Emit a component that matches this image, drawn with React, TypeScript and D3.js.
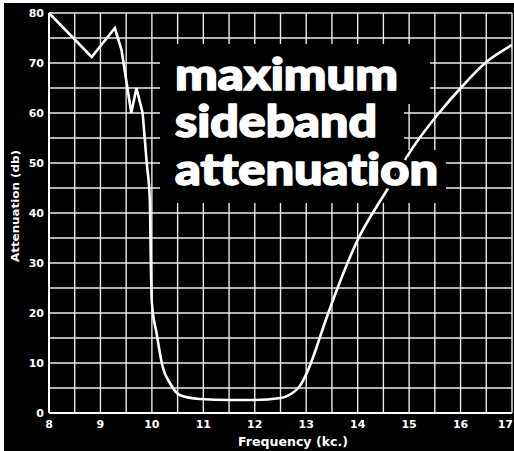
import React from "react";
import * as d3 from "d3";

const freqs = [8.0, 8.83, 9.28, 9.41, 9.6, 9.7, 9.82, 9.9, 9.96, 9.98, 10.0, 10.09, 10.21, 10.35, 10.54, 10.93, 11.5, 12.0, 12.5, 12.86, 13.02, 13.19, 13.31, 13.5, 14.0, 14.57, 15.1, 15.58, 16.02, 16.5, 17.0];
const attenuation = [80, 71.2, 77, 72.6, 60, 65, 60, 50, 42.6, 30, 22, 16, 9.2, 6, 3.6, 2.8, 2.6, 2.6, 3, 5.2, 8.2, 12.8, 16.5, 22, 34.6, 44.6, 53.5, 60, 65.2, 70.2, 73.6];
const xTicks = [8, 9, 10, 11, 12, 13, 14, 15, 16, 17];
const yTicks = [0, 10, 20, 30, 40, 50, 60, 70, 80];
const titleLines = ["maximum", "sideband", "attenuation"];
const xLabel = "Frequency   (kc.)";
const yLabel = "Attenuation   (db)";

const W = 514, H = 451;

export default function App() {
  const x = d3.scaleLinear().domain([8, 17]).range([49, 512]);
  const y = d3.scaleLinear().domain([0, 80]).range([413, 13]);
  const pts: [number, number][] = freqs.map((f, i) => [f, attenuation[i]]);
  const split = 6;
  const lineLin = d3.line<[number, number]>().x(d => x(d[0])).y(d => y(d[1])).curve(d3.curveLinear);
  const lineSm = d3.line<[number, number]>().x(d => x(d[0])).y(d => y(d[1])).curve(d3.curveMonotoneX);
  const vGrid = d3.range(8, 17.001, 0.5);
  const hGrid = d3.range(0, 80.001, 5);
  const font = "'DejaVu Sans', sans-serif";
  const titleX = 175;
  const titleY = [90, 137, 185];
  const titleW = [223, 202, 263];
  const boxes = [
    { x0: 160, x1: 430, y0: 44, y1: 104 },
    { x0: 160, x1: 404, y0: 104, y1: 150 },
    { x0: 160, x1: 446, y0: 150, y1: 203 },
  ];
  const titleStyle: React.CSSProperties = { fontVariantLigatures: "none", fontFeatureSettings: "'liga' 0" };
  return (
    <svg width={W} height={H} style={{ position: "absolute", left: 0, top: 0, display: "block" }}>
      <rect x={0} y={0} width={W} height={H} fill="#fff" />
      <rect x={4} y={3} width={W - 4} height={H - 3} fill="#000" />
      <g stroke="#fff" strokeWidth={1.4} opacity={0.92}>
        {vGrid.map(v => (
          <line key={"v" + v} x1={x(v)} x2={x(v)} y1={y(80)} y2={y(0)} />
        ))}
        {hGrid.map(v => (
          <line key={"h" + v} x1={x(8)} x2={x(17)} y1={y(v)} y2={y(v)} />
        ))}
      </g>
      <line x1={x(8)} x2={x(8)} y1={y(80)} y2={y(0)} stroke="#fff" strokeWidth={2} />
      <line x1={x(8)} x2={x(17)} y1={y(0)} y2={y(0)} stroke="#fff" strokeWidth={2} />
      {boxes.map((b, i) => (
        <rect key={i} x={b.x0} y={b.y0} width={b.x1 - b.x0} height={b.y1 - b.y0} fill="#000" />
      ))}
      <path d={lineLin(pts.slice(0, split + 1)) || ""} fill="none" stroke="#fff" strokeWidth={2.6} strokeLinejoin="miter" />
      <path d={lineSm(pts.slice(split)) || ""} fill="none" stroke="#fff" strokeWidth={2.6} />
      {titleLines.map((t, i) => (
        <text key={"h" + t} x={titleX} y={titleY[i]} fill="#000" stroke="#000" strokeWidth={9}
          fontFamily="Lato, 'Open Sans', sans-serif" fontWeight={900} fontSize={43} style={titleStyle}
          textLength={titleW[i]} lengthAdjust="spacingAndGlyphs">{t}</text>
      ))}
      {titleLines.map((t, i) => (
        <text key={t} x={titleX} y={titleY[i]} fill="#fff" stroke="#fff" strokeWidth={1.6} strokeLinejoin="round"
          fontFamily="Lato, 'Open Sans', sans-serif" fontWeight={900} fontSize={43} style={titleStyle}
          textLength={titleW[i]} lengthAdjust="spacingAndGlyphs">{t}</text>
      ))}
      {yTicks.map(v => (
        <text key={"yt" + v} x={44} y={y(v) + 4} fill="#fff" fontFamily={font} fontWeight="bold" fontSize={11} textAnchor="end">{v}</text>
      ))}
      {xTicks.map((v, i) => (
        <text key={"xt" + v} x={i === xTicks.length - 1 ? 513 : x(v)} y={428} fill="#fff" fontFamily={font} fontWeight="bold" fontSize={11}
          textAnchor={i === xTicks.length - 1 ? "end" : "middle"}>{v}</text>
      ))}
      <text x={293} y={446} fill="#fff" fontFamily={font} fontWeight="bold" fontSize={13} textAnchor="middle"
        textLength={110} lengthAdjust="spacingAndGlyphs">{xLabel}</text>
      <text transform="translate(19,206) rotate(-90)" fill="#fff" fontFamily={font} fontWeight="bold" fontSize={11}
        textAnchor="middle" textLength={112} lengthAdjust="spacingAndGlyphs">{yLabel}</text>
    </svg>
  );
}
